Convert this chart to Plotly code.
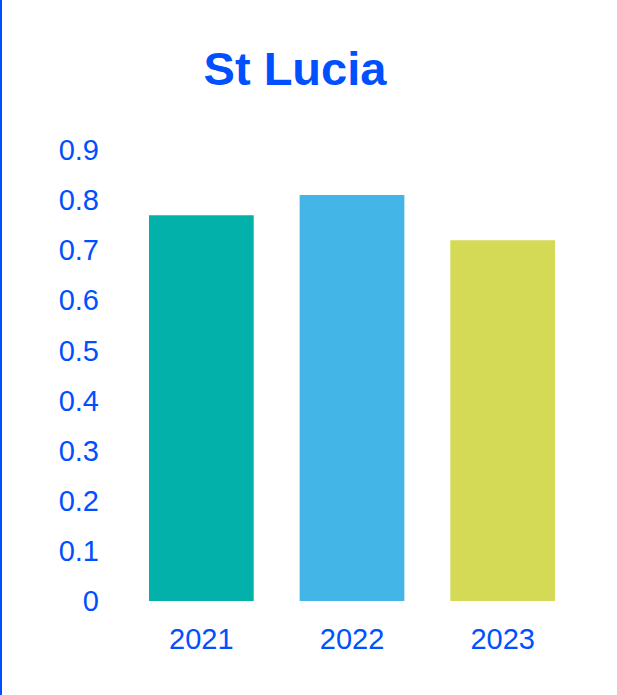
import plotly.graph_objects as go

# data
years = ["2021", "2022", "2023"]
values = [0.77, 0.81, 0.72]
bar_colors = ["#02B2AA", "#43B5E6", "#D4D956"]
y_ticks = [0, 0.1, 0.2, 0.3, 0.4, 0.5, 0.6, 0.7, 0.8, 0.9]

BLUE = "#0050FF"
W, H = 617, 695
ML, MR, MT, MB = 126, 39, 150, 94
plot_w = W - ML - MR
plot_h = H - MT - MB

fig = go.Figure(
    go.Bar(x=years, y=values, marker=dict(color=bar_colors, line=dict(width=0)))
)

fig.update_layout(
    width=W,
    height=H,
    margin=dict(l=ML, r=MR, t=MT, b=MB, pad=0),
    paper_bgcolor="white",
    plot_bgcolor="white",
    bargap=0.305,
    showlegend=False,
    font=dict(family="Liberation Sans, Arial, sans-serif", color=BLUE, size=29),
    title=dict(
        text="<b>St Lucia</b>",
        font=dict(size=47, color=BLUE),
        x=295 / W,
        xanchor="center",
        xref="container",
        y=1 - 69 / H,
        yanchor="middle",
        yref="container",
    ),
)

fig.update_xaxes(
    showgrid=False, showline=False, zeroline=False,
    ticklabelstandoff=18, tickfont=dict(size=29, color=BLUE),
)
fig.update_yaxes(
    range=[0, 0.9], tickvals=y_ticks, ticktext=[f"{v:g}" for v in y_ticks],
    showgrid=False, showline=False, zeroline=False,
    ticklabelstandoff=26, tickfont=dict(size=29, color=BLUE),
)

# thin blue frame line on the left edge of the picture
fig.add_shape(
    type="line", xref="paper", yref="paper",
    x0=-(ML - 1) / plot_w, x1=-(ML - 1) / plot_w,
    y0=-(MB + 5) / plot_h, y1=1 + (MT + 5) / plot_h,
    line=dict(color=BLUE, width=2),
)

# drop the default page margin so the figure sits at the window corner
fig.write_html(
    "out.html",
    config={"displayModeBar": False},
    post_script="document.body.style.margin='0';",
)
